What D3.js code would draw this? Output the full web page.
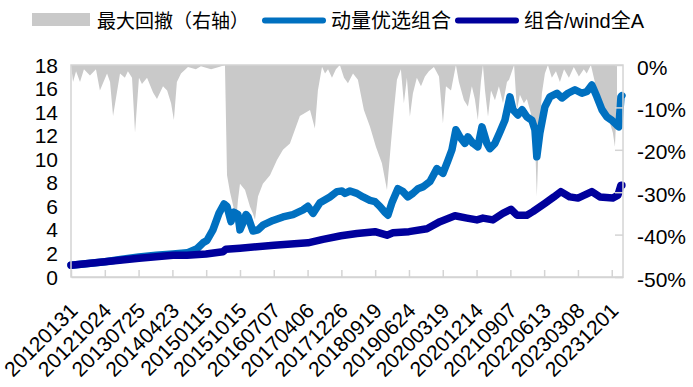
<!DOCTYPE html>
<html>
<head>
<meta charset="utf-8">
<script src="https://cdn.jsdelivr.net/npm/d3@7"></script>
<style>
  body { margin: 0; background: #fff; }
  text { font-family: "Liberation Sans", Arial, "Noto Sans CJK SC", sans-serif; fill: #000; }
</style>
</head>
<body>
<div id="chart"></div>
<script>
// chart size
const width = 693
const height = 387

// x labels sit every 180 trading days
const dateLabels = ["20120131","20121024","20130725","20140423","20150115","20151015","20160707",
  "20170406","20171226","20180919","20190624","20200319","20201214","20210907","20220613",
  "20230308","20231201"]
const daysPerLabel = 180
const lastDay = 2940

// 动量优选组合 (trading day index, net value)
const momDays = [0,91,181,272,362,453,543,618,671,703,724,756,788,815,831,852,868,889,900,916,932,943,969,996,
  1022,1076,1129,1182,1236,1262,1289,1326,1379,1416,1443,1459,1486,1523,1555,1592,1619,1645,1672,1688,1709,
  1741,1768,1794,1821,1848,1874,1912,1949,1981,2008,2029,2050,2071,2098,2114,2141,2167,2189,2215,2231,2258,
  2284,2311,2338,2354,2380,2402,2428,2455,2471,2481,2497,2524,2551,2588,2615,2647,2684,2721,2748,2774,2801,
  2828,2854,2881,2907,2918,2929,2934]
const momValues = [1.0,1.15,1.3,1.5,1.7,1.85,1.95,2.05,2.4,2.9,3.1,4.0,5.4,6.2,6.0,4.7,5.5,5.3,4.0,4.6,5.3,5.1,3.9,4.0,
  4.4,4.8,5.1,5.3,5.7,6.0,5.4,6.3,6.8,7.25,7.3,7.1,7.3,7.1,6.8,6.5,6.4,6.0,5.5,5.25,6.3,
  7.5,7.25,6.8,7.1,7.5,7.65,8.1,9.2,8.8,9.9,10.8,12.5,11.9,11.35,11.9,11.35,11.05,12.75,11.35,10.9,11.35,
  12.3,13.3,15.3,14.2,13.75,14.2,13.6,13.3,12.5,10.2,12.2,14.45,15.3,15.6,15.2,15.6,15.9,15.6,15.75,16.3,15.3,
  14.2,13.6,13.3,12.9,12.75,15.3,15.4]

// 组合/wind全A
const relDays = [0,181,362,543,618,719,809,825,900,1081,1262,1342,1438,1523,1619,1683,1715,1800,1896,1965,
  2045,2109,2162,2194,2247,2300,2343,2375,2428,2460,2524,2572,2609,2657,2700,2774,2817,2886,2913,2929,2934]
const relValues = [1.0,1.3,1.6,1.85,1.85,1.95,2.15,2.35,2.45,2.7,2.9,3.2,3.5,3.7,3.85,3.55,3.75,3.85,4.1,4.7,
  5.2,5.0,4.85,5.0,4.85,5.4,5.75,5.25,5.25,5.55,6.25,6.8,7.25,6.8,6.7,7.25,6.8,6.7,6.95,7.8,7.8]

// 最大回撤 (右轴, %)
const ddDays = [0,11,27,48,69,101,133,154,192,208,224,261,287,303,325,341,362,378,405,437,458,490,512,533,
  548,564,586,623,665,692,746,788,820,831,847,868,879,889,900,927,953,969,980,996,1022,1060,1097,1129,1166,1219,
  1273,1299,1315,1337,1353,1369,1390,1411,1432,1454,1475,1502,1528,1560,1592,1624,1656,1683,1704,1720,1736,1757,
  1773,1789,1805,1821,1842,1864,1885,1906,1933,1960,1981,1997,2024,2050,2066,2093,2114,2135,2151,2167,2183,2194,
  2205,2221,2237,2258,2279,2301,2322,2333,2360,2375,2391,2412,2428,2449,2460,2471,2481,2492,2508,2524,2540,2561,
  2583,2604,2626,2652,2678,2705,2731,2747,2769,2790,2806,2822,2843,2860,2876,2886,2897,2908]
const ddValues = [0,-4,-1.5,-4,-1,-2.5,-1,-6,-2,-4,-12,-2,-3,-1.5,-3,-16,-3,-4.5,-3,-6.5,-8,-5,-6,-9,
  -13,-4,-2,-0.5,-1,-0.3,-1,-0.5,0,-26,-30,-34,-37,-32,-28,-29.5,-33.4,-35,-36.5,-31,-28,-26,-22.4,-20,-18.5,-12,
  -10.6,-15,-6,-0.4,-2,-1,-3,-1,0,-3,-4.3,-2,-3.5,-10.6,-14.5,-19.3,-23.2,-29.5,-18.5,-10.6,-3.5,-1,
  -9,-3,-12.2,-6.7,-3,-5,-2.7,-1.5,-0.5,-2.7,-13.8,-5,-6,0,-4,-8.3,-9.8,-5,-8,-13,-4,0,
  -6,-12.2,-6,-8.3,-5,-9,-4,-3.5,0,-10.6,-7,-9,-8,-11.4,-14,-17,-31,-17,-6.7,-2,0,-3,
  -1.5,-4,-1,-3,-0.5,-2.7,-1,-2,0,-4,-6.7,-8,-10.6,-12,-14.5,-16,-19.3,-8.3,-6]

const leftTicks = [0,2,4,6,8,10,12,14,16,18]
const rightTicks = [0,-10,-20,-30,-40,-50]

const colGray = "#c9c9c9"
const colMom = "#0070c0"
const colRel = "#00009c"
const colAxis = "#d4d4d4"

const margin = {left: 71, right: 70, top: 65, bottom: 110}
const plotW = width - margin.left - margin.right
const plotH = height - margin.top - margin.bottom

const svg = d3.select("#chart").append("svg")
  .attr("width", width)
  .attr("height", height)

const x = d3.scaleLinear().domain([0, lastDay]).range([margin.left, margin.left + plotW])
const yL = d3.scaleLinear().domain([0, 18]).range([margin.top + plotH, margin.top])
const yR = d3.scaleLinear().domain([-50, 0]).range([margin.top + plotH, margin.top])

const ddData = ddDays.map((d, i) => ({day: d, v: ddValues[i]}))
const momData = momDays.map((d, i) => ({day: d, v: momValues[i]}))
const relData = relDays.map((d, i) => ({day: d, v: relValues[i]}))

// drawdown area hangs from the 0% line
svg.append("path")
  .datum(ddData)
  .attr("fill", colGray)
  .attr("d", d3.area().x(d => x(d.day)).y0(yR(0)).y1(d => yR(d.v)))

const line = d3.line().x(d => x(d.day)).y(d => yL(d.v))

svg.append("path").datum(momData)
  .attr("fill", "none").attr("stroke", colMom).attr("stroke-width", 7.5)
  .attr("stroke-linejoin", "round").attr("stroke-linecap", "round")
  .attr("d", line)

svg.append("path").datum(relData)
  .attr("fill", "none").attr("stroke", colRel).attr("stroke-width", 7.5)
  .attr("stroke-linejoin", "round").attr("stroke-linecap", "round")
  .attr("d", line)

// frame
svg.append("rect")
  .attr("x", margin.left).attr("y", margin.top)
  .attr("width", plotW).attr("height", plotH)
  .attr("fill", "none").attr("stroke", colAxis).attr("stroke-width", 1.5)

// bottom axis (ticks inside)
const tickDays = dateLabels.map((d, i) => i * daysPerLabel)
const xAxis = svg.append("g")
  .attr("transform", `translate(0,${margin.top + plotH})`)
  .call(d3.axisBottom(x).tickValues(tickDays).tickSizeInner(-7).tickSizeOuter(0).tickFormat(""))
xAxis.select(".domain").attr("stroke", colAxis).attr("stroke-width", 1.5)
xAxis.selectAll(".tick line").attr("stroke", colAxis).attr("stroke-width", 1.5)

svg.append("g").selectAll("text")
  .data(dateLabels)
  .join("text")
    .attr("transform", (d, i) => `translate(${x(tickDays[i]) + 8},${margin.top + plotH + 35}) rotate(-45)`)
    .attr("text-anchor", "end")
    .style("font-size", "21px")
    .text(d => d)

// left axis labels
svg.append("g").selectAll("text")
  .data(leftTicks)
  .join("text")
    .attr("x", 58)
    .attr("y", d => yL(d))
    .attr("dy", "0.36em")
    .attr("text-anchor", "end")
    .style("font-size", "21px")
    .text(d => d)

// right axis ticks + labels
const rAxis = svg.append("g")
  .attr("transform", `translate(${margin.left + plotW},0)`)
  .call(d3.axisRight(yR).tickValues(rightTicks).tickSizeInner(-8).tickSizeOuter(0).tickFormat(""))
rAxis.select(".domain").remove()
rAxis.selectAll(".tick line").attr("stroke", colAxis).attr("stroke-width", 1.5)

svg.append("g").selectAll("text")
  .data(rightTicks)
  .join("text")
    .attr("x", 637)
    .attr("y", d => yR(d) + 2)
    .attr("dy", "0.36em")
    .style("font-size", "21px")
    .text(d => d + "%")

// legend
const legend = svg.append("g")
legend.append("rect").attr("x", 32).attr("y", 13).attr("width", 58).attr("height", 13).attr("fill", colGray)
legend.append("text").attr("x", 97).attr("y", 28).style("font-size", "19px").text("最大回撤（右轴）")
legend.append("line").attr("x1", 265).attr("x2", 323).attr("y1", 20.5).attr("y2", 20.5)
  .attr("stroke", colMom).attr("stroke-width", 6).attr("stroke-linecap", "round")
legend.append("text").attr("x", 331).attr("y", 28).style("font-size", "20px").text("动量优选组合")
legend.append("line").attr("x1", 458).attr("x2", 516).attr("y1", 20.5).attr("y2", 20.5)
  .attr("stroke", colRel).attr("stroke-width", 6).attr("stroke-linecap", "round")
legend.append("text").attr("x", 524).attr("y", 28).style("font-size", "20px").text("组合/wind全A")
</script>
</body>
</html>
